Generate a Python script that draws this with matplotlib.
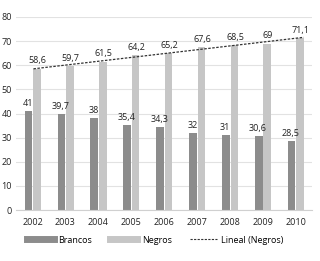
import numpy as np
import matplotlib
matplotlib.use("Agg")
import matplotlib.pyplot as plt
from matplotlib.lines import Line2D

# Data
years = ["2002", "2003", "2004", "2005", "2006", "2007", "2008", "2009", "2010"]
brancos = [41, 39.7, 38, 35.4, 34.3, 32, 31, 30.6, 28.5]
negros = [58.6, 59.7, 61.5, 64.2, 65.2, 67.6, 68.5, 69, 71.1]
brancos_labels = ["41", "39,7", "38", "35,4", "34,3", "32", "31", "30,6", "28,5"]
negros_labels = ["58,6", "59,7", "61,5", "64,2", "65,2", "67,6", "68,5", "69", "71,1"]

dark = "#8c8c8c"
light = "#c6c6c6"

plt.rcParams["font.family"] = ["Open Sans", "DejaVu Sans"]

fig = plt.figure(figsize=(3.2, 2.61), dpi=100)
ax = fig.add_axes([0.05, 0.195, 0.925, 0.74])

x = np.arange(len(years))
w = 0.23
ax.bar(x - 0.12, brancos, w, color=dark, zorder=2)
ax.bar(x + 0.14, negros, w, color=light, zorder=2)

# value labels
for i in range(len(years)):
    ax.text(x[i] - 0.14, brancos[i] + 1.3, brancos_labels[i], ha="center", va="bottom",
            fontsize=6.5, color="#222222")
    ax.text(x[i] + 0.16, negros[i] + 1.3, negros_labels[i], ha="center", va="bottom",
            fontsize=6.5, color="#222222")

# linear trend (Negros)
coef = np.polyfit(x, negros, 1)
xt = np.array([x[0] + 0.03, x[-1] + 0.25])
ax.plot(xt, np.polyval(coef, xt - 0.14), color="#333333", linestyle=(0, (2, 1.2)),
        linewidth=0.9, zorder=3)

ax.set_ylim(0, 80)
ax.set_xlim(-0.5, len(years) - 0.5)
ax.set_yticks(range(0, 81, 10))
ax.set_xticks(x)
ax.set_xticklabels(years)
ax.tick_params(length=0, labelsize=6.5, colors="#222222", pad=6)
ax.tick_params(axis="y", pad=3)
ax.grid(axis="y", color="#e2e2e2", linewidth=0.8, zorder=0)
for s in ["top", "right", "left"]:
    ax.spines[s].set_visible(False)
ax.spines["bottom"].set_color("#d0d0d0")

handles = [
    Line2D([], [], color=dark, linewidth=5),
    Line2D([], [], color=light, linewidth=5),
    Line2D([], [], color="#333333", linewidth=0.8, linestyle=(0, (2, 1.2))),
]
fig.legend(handles, ["Brancos", "Negros", "Lineal (Negros)"], loc="center",
           bbox_to_anchor=(0.485, 0.08), ncol=3, frameon=False, fontsize=6.5,
           handlelength=3.0, columnspacing=2.0, handletextpad=0.5)

fig.savefig("out.png", dpi=100, facecolor="white")
